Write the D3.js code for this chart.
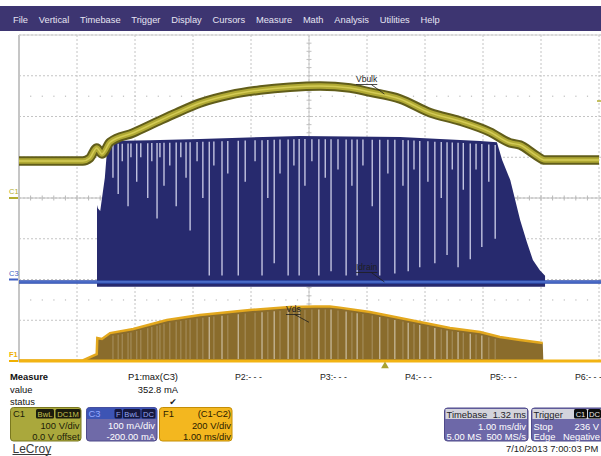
<!DOCTYPE html>
<html>
<head>
<meta charset="utf-8">
<script src="https://cdn.jsdelivr.net/npm/d3@7"></script>
<style>
  body { margin: 0; background: #fff; }
  svg { display: block; font-family: "Liberation Sans", Arial, sans-serif; }
</style>
</head>
<body>
<svg id="scope" width="601" height="456"></svg>
<script>
// ---- data (time in ms) ----
const menuItems = ['File', 'Vertical', 'Timebase', 'Trigger', 'Display', 'Cursors', 'Measure', 'Math', 'Analysis', 'Utilities', 'Help']

// C1 : Vbulk (V)
const c1Time = [0, 1.10, 1.22, 1.34, 1.43, 1.57, 1.97, 2.38, 2.72, 3.12, 3.64, 4.16, 4.67, 5.19, 5.71, 6.05, 6.57, 7.09, 7.60, 8.12, 8.47, 8.64, 8.90, 9.07, 10]
const c1Volts = [91, 91, 98, 123, 108, 137, 160, 187, 209, 233, 253, 265, 272, 275, 270, 260, 243, 209, 189, 162, 135, 130, 106, 93, 93]

// C3 : Idrain envelope top (mA)
const c3Time = [1.345, 1.36, 1.40, 1.48, 1.53, 2.26, 3.12, 4.84, 6.57, 7.95, 8.24, 8.33, 8.47, 8.64, 8.76, 8.86, 8.98, 9.07]
const c3Peak = [183, 175, 168, 250, 340, 342, 345, 352, 350, 340, 337, 293, 244, 146, 90, 48, 23, 9]
const c3Floor = -18
const c3Baseline = -6

// F1 : Vds = C1 - C2 envelope top (V)
const f1Time = [0, 1.10, 1.34, 1.35, 1.43, 1.57, 1.97, 2.55, 3.12, 3.98, 4.67, 5.10, 5.36, 5.53, 6.05, 6.57, 7.43, 7.95, 8.29, 8.64, 9.03, 9.04, 10]
const f1Volts = [3, 3, 34, 113, 108, 137, 157, 201, 226, 250, 265, 268, 268, 262, 240, 211, 162, 142, 118, 103, 88, 3, 3]

// switching gaps: time and the current level where each gap ends (mA)
const gapTime = [1.62, 1.71, 1.78, 1.88, 1.93, 2.03, 2.10, 2.22, 2.29, 2.38, 2.43, 2.50, 2.60, 2.71, 2.79, 2.88, 2.95, 3.07, 3.17, 3.28, 3.36, 3.50, 3.60, 3.78, 3.90, 4.07, 4.19, 4.29, 4.40, 4.50, 4.64, 4.74, 4.83, 4.93, 5.05, 5.17, 5.28, 5.38, 5.50, 5.64, 5.74, 5.83, 5.93, 6.09, 6.22, 6.36, 6.48, 6.62, 6.71, 6.81, 6.91, 7.05, 7.17, 7.28, 7.38, 7.47, 7.57, 7.66, 7.78, 7.88, 7.98, 8.10, 8.21]
const gapLow = [250, 210, 290, 180, 300, 240, 300, 200, 290, 150, 300, 230, 280, 180, 300, 250, 120, 290, 200, 10, 280, 10, 260, 10, 240, 290, 10, 200, 40, 260, 10, 280, 10, 230, 290, 10, 250, 20, 270, 10, 230, 10, 280, 180, 10, 260, 15, 230, 20, 270, 30, 240, 40, 200, 60, 270, 30, 220, 50, 270, 80, 240, 100]

const measureSlots = ['P1:max(C3)', 'P2:- - -', 'P3:- - -', 'P4:- - -', 'P5:- - -', 'P6:- - -']
const measureValue = '352.8 mA'
const triggerTime = 6.31
const triggerLevel = 238

// ---- scales ----
const x = d3.scaleLinear().domain([0, 10]).range([19, 599])
const yC1 = d3.scaleLinear().domain([-400, 400]).range([361, 35])   // 100 V/div, 0 V offset
const yC3 = d3.scaleLinear().domain([-200, 600]).range([361, 35])   // 100 mA/div, -200 mA offset
const yF1 = d3.scaleLinear().domain([0, 1600]).range([361, 35])     // 200 V/div

const svg = d3.select('#scope')

// ---- menu bar ----
svg.append('rect').attr('x', 0).attr('y', 6).attr('width', 601).attr('height', 25).attr('fill', '#3d3571')
let mx = 13
menuItems.forEach(name => {
  const t = svg.append('text').attr('x', mx).attr('y', 22.5)
    .attr('font-size', 9.3).attr('fill', '#e6e4f2').text(name)
  mx += t.node().getComputedTextLength() + 10.8
})

// ---- grid ----
const grid = svg.append('g')
const gridColor = '#c4c4c4'
d3.range(1, 11).forEach(d => {
  grid.append('line').attr('x1', x(d)).attr('x2', x(d)).attr('y1', 35).attr('y2', 361)
    .attr('stroke', gridColor).attr('stroke-dasharray', '2,2').attr('stroke-width', 1)
})
d3.range(-300, 401, 100).forEach(v => {
  grid.append('line').attr('x1', 19).attr('x2', 601).attr('y1', yC1(v)).attr('y2', yC1(v))
    .attr('stroke', gridColor).attr('stroke-dasharray', '2,2').attr('stroke-width', 1)
})
grid.append('line').attr('x1', 19).attr('x2', 19).attr('y1', 35).attr('y2', 362).attr('stroke', '#c6c6c6').attr('stroke-width', 2)
grid.append('line').attr('x1', 19).attr('x2', 601).attr('y1', 35).attr('y2', 35).attr('stroke', '#d0d0d0').attr('stroke-width', 1)
// centre cross with minor ticks
grid.append('line').attr('x1', 19).attr('x2', 601).attr('y1', yC1(0)).attr('y2', yC1(0)).attr('stroke', '#bcbcbc')
grid.append('line').attr('x1', x(5)).attr('x2', x(5)).attr('y1', 35).attr('y2', 361).attr('stroke', '#c8c8c8')
d3.range(0.2, 10, 0.2).forEach(t => {
  grid.append('line').attr('x1', x(t)).attr('x2', x(t)).attr('y1', yC1(0) - 2.5).attr('y2', yC1(0) + 2.5).attr('stroke', '#b8b8b8')
  ;[250, -250].forEach(v => {
    grid.append('rect').attr('x', x(t) - 0.5).attr('y', yC1(v) - 0.5).attr('width', 1.2).attr('height', 1.2).attr('fill', '#bdbdbd')
  })
})
d3.range(-380, 400, 20).forEach(v => {
  grid.append('line').attr('x1', x(5) - 2.5).attr('x2', x(5) + 2.5).attr('y1', yC1(v)).attr('y2', yC1(v)).attr('stroke', '#c0c0c0')
})

// ---- C3 Idrain ----
const c3Pts = c3Time.map((t, i) => ({ t, v: c3Peak[i] }))
const c3Area = d3.area().x(d => x(d.t)).y0(yC3(c3Floor)).y1(d => yC3(d.v)).curve(d3.curveLinear)
svg.append('path').datum(c3Pts).attr('d', c3Area).attr('fill', '#272a6e')
const c3Top = d3.scaleLinear().domain(c3Time).range(c3Peak)
gapTime.forEach((t, i) => {
  svg.append('line').attr('x1', x(t)).attr('x2', x(t))
    .attr('y1', yC3(c3Top(t)) + 3).attr('y2', yC3(gapLow[i]))
    .attr('stroke', '#cfd0ea').attr('stroke-width', 1.3)
})
svg.append('line').attr('x1', 19).attr('x2', 601).attr('y1', yC3(c3Baseline)).attr('y2', yC3(c3Baseline))
  .attr('stroke', '#2e4cae').attr('stroke-width', 3.5)
svg.append('line').attr('x1', 19).attr('x2', 601).attr('y1', yC3(c3Baseline)).attr('y2', yC3(c3Baseline))
  .attr('stroke', '#6287dc').attr('stroke-width', 1)

// ---- F1 Vds ----
const f1Pts = f1Time.map((t, i) => ({ t, v: f1Volts[i] }))
const f1Area = d3.area().x(d => x(d.t)).y0(yF1(0)).y1(d => yF1(d.v))
svg.append('path').datum(f1Pts).attr('d', f1Area).attr('fill', '#8a6c2c')
const f1Top = d3.scaleLinear().domain(f1Time).range(f1Volts)
gapTime.forEach((t, i) => {
  svg.append('line').attr('x1', x(t)).attr('x2', x(t))
    .attr('y1', yF1(f1Top(t)) + 3).attr('y2', yF1(0) - 2)
    .attr('stroke', '#ddd4bf').attr('stroke-width', 1.2)
    .attr('opacity', gapLow[i] < 100 ? 0.8 : 0.3)
})
const f1Line = d3.line().x(d => x(d.t)).y(d => yF1(d.v))
svg.append('path').datum(f1Pts.filter(d => d.v > 10 || d.t < 1.2))
  .attr('d', f1Line).attr('fill', 'none').attr('stroke', '#e3a81e').attr('stroke-width', 2.5)
svg.append('line').attr('x1', 19).attr('x2', 601).attr('y1', yF1(0)).attr('y2', yF1(0))
  .attr('stroke', '#f2b414').attr('stroke-width', 3)

// ---- C1 Vbulk ----
const c1Pts = c1Time.map((t, i) => ({ t, v: c1Volts[i] }))
const c1Line = d3.line().x(d => x(d.t)).y(d => yC1(d.v)).curve(d3.curveMonotoneX)
svg.append('path').datum(c1Pts).attr('d', c1Line).attr('fill', 'none').attr('stroke', '#615d1a').attr('stroke-width', 9.5)
svg.append('path').datum(c1Pts).attr('d', c1Line).attr('fill', 'none').attr('stroke', '#b0a934').attr('stroke-width', 5.5)
svg.append('path').datum(c1Pts).attr('d', c1Line).attr('fill', 'none').attr('stroke', '#d4cb55').attr('stroke-width', 1.5)

// ---- trace labels ----
function traceLabel(text, lx, ly, tx, ty) {
  const t = svg.append('text').attr('x', lx).attr('y', ly).attr('font-size', 8.5).attr('fill', '#1e1e1e').text(text)
  const w = t.node().getComputedTextLength()
  svg.append('line').attr('x1', lx).attr('x2', lx + w).attr('y1', ly + 2.5).attr('y2', ly + 2.5).attr('stroke', '#1e1e1e').attr('stroke-width', 0.8)
  svg.append('line').attr('x1', lx + w - 6).attr('x2', tx).attr('y1', ly + 2.5).attr('y2', ty).attr('stroke', '#1e1e1e').attr('stroke-width', 0.8)
}
traceLabel('Vbulk', 356, 82, x(6.3), yC1(255))
traceLabel('Idrain', 356, 270, x(6.3), yC3(c3Baseline))
traceLabel('Vds', 286, 312, x(5.0), yF1(190))

// ---- channel markers on the left ----
const markers = [['C1', yC1(0), '#b3ad30'], ['C3', yC3(0), '#3f5fc4'], ['F1', yF1(0), '#f0b000']]
markers.forEach(([name, yy, col]) => {
  svg.append('text').attr('x', 9).attr('y', yy - 4).attr('font-size', 7.5).attr('font-weight', name === 'F1' ? 'bold' : 'normal').attr('fill', col).text(name)
  svg.append('line').attr('x1', 9).attr('x2', 18).attr('y1', yy).attr('y2', yy).attr('stroke', col).attr('stroke-width', 2)
})
svg.append('line').attr('x1', 597).attr('x2', 601).attr('y1', yC1(triggerLevel)).attr('y2', yC1(triggerLevel)).attr('stroke', '#b3ad30').attr('stroke-width', 1.5)
svg.append('path').attr('d', d3.symbol().type(d3.symbolTriangle).size(26)())
  .attr('transform', `translate(${x(triggerTime)},366)`).attr('fill', '#a9a232')

// ---- measure table ----
const fs = 9.4
svg.append('text').attr('x', 10).attr('y', 380).attr('font-size', fs).attr('font-weight', 'bold').attr('fill', '#111').text('Measure')
svg.append('text').attr('x', 10).attr('y', 393).attr('font-size', fs).attr('fill', '#111').text('value')
svg.append('text').attr('x', 10).attr('y', 405).attr('font-size', fs).attr('fill', '#111').text('status')
svg.append('text').attr('x', 178).attr('y', 380).attr('font-size', fs).attr('text-anchor', 'end').attr('fill', '#111').text(measureSlots[0])
svg.append('text').attr('x', 178).attr('y', 393).attr('font-size', fs).attr('text-anchor', 'end').attr('fill', '#111').text(measureValue)
svg.append('text').attr('x', 173).attr('y', 405).attr('font-size', 9).attr('text-anchor', 'middle').attr('fill', '#222').attr('font-family', 'DejaVu Sans').text('\u2714')
measureSlots.slice(1).forEach((s, i) => {
  svg.append('text').attr('x', 235 + i * 85).attr('y', 380).attr('font-size', 8.8).attr('fill', '#222').text(s)
})

// ---- info boxes ----
function box(bx, by, bw, bh, fill, stroke) {
  return svg.append('rect').attr('x', bx).attr('y', by).attr('width', bw).attr('height', bh)
    .attr('rx', 3).attr('fill', fill).attr('stroke', stroke).attr('stroke-width', 1)
}
function txt(tx, ty, s, col, anchor) {
  return svg.append('text').attr('x', tx).attr('y', ty).attr('font-size', fs).attr('fill', col)
    .attr('text-anchor', anchor || 'start').text(s)
}
function badge(bx, bw, s, fill, col) {
  svg.append('rect').attr('x', bx).attr('y', 409).attr('width', bw).attr('height', 9.5).attr('rx', 1.5).attr('fill', fill)
  svg.append('text').attr('x', bx + bw / 2).attr('y', 416.8).attr('font-size', 7.6).attr('text-anchor', 'middle').attr('fill', col).text(s)
}
// C1
box(10.5, 407.5, 70.5, 33.5, '#aaa83c', '#7a781f')
txt(13, 417, 'C1', '#1c1c08')
badge(36, 18, 'BwL', '#1b1b0c', '#c9c250')
badge(55.5, 25, 'DC1M', '#1b1b0c', '#c9c250')
txt(79.5, 429, '100 V/div', '#1c1c08', 'end')
txt(79.5, 440, '0.0 V offset', '#1c1c08', 'end')
// C3
box(86.5, 407.5, 70.5, 33.5, '#6f6aa8', '#4f4a8a')
svg.append('path').attr('d', 'M86.5,419 V410.5 Q86.5,407.5 89.5,407.5 H154 Q157,407.5 157,410.5 V419 Z').attr('fill', '#3d54b4')
txt(88.5, 417, 'C3', '#96a9ff')
badge(114.5, 7.5, 'F', '#15173d', '#93a5ee')
badge(123, 17.5, 'BwL', '#15173d', '#93a5ee')
badge(141.5, 14, 'DC', '#15173d', '#93a5ee')
txt(155, 429, '100 mA/div', '#ffffff', 'end')
txt(155, 440, '-200.00 mA', '#ffffff', 'end')
// F1
box(159.5, 407.5, 72.5, 33.5, '#f3b71f', '#c48e05')
txt(163, 417, 'F1', '#2a2000')
txt(231, 417, '(C1-C2)', '#2a2000', 'end')
txt(231, 429, '200 V/div', '#2a2000', 'end')
txt(231, 440, '1.00 ms/div', '#2a2000', 'end')
// Timebase
box(444.5, 408, 83.5, 33, '#6d68a8', '#4f4a8a')
svg.append('rect').attr('x', 445.5).attr('y', 409).attr('width', 81.5).attr('height', 10).attr('fill', '#d3d3dc')
txt(446.5, 417.5, 'Timebase', '#1e1e2a')
txt(526, 417.5, '1.32 ms', '#1e1e2a', 'end')
txt(526, 429.5, '1.00 ms/div', '#ffffff', 'end')
txt(446.5, 440, '5.00 MS', '#ffffff')
txt(526, 440, '500 MS/s', '#ffffff', 'end')
// Trigger
box(531.5, 408, 75, 33, '#6d68a8', '#4f4a8a')
svg.append('rect').attr('x', 532.5).attr('y', 409).attr('width', 70).attr('height', 10).attr('fill', '#d3d3dc')
txt(533.5, 417.5, 'Trigger', '#1e1e2a')
badge(574, 13, 'C1', '#0c0c0c', '#e8e8e8')
badge(588, 13, 'DC', '#0c0c0c', '#e8e8e8')
txt(599, 429.5, '236 V', '#ffffff', 'end')
txt(533.5, 429.5, 'Stop', '#ffffff')
txt(533.5, 440, 'Edge', '#ffffff')
txt(600, 440, 'Negative', '#ffffff', 'end')

// ---- footer ----
const logo = svg.append('text').attr('x', 12.5).attr('y', 452.5).attr('font-size', 12).attr('fill', '#3a3a3a').text('LeCroy')
svg.append('line').attr('x1', 12.5).attr('x2', 12.5 + logo.node().getComputedTextLength()).attr('y1', 454.5).attr('y2', 454.5)
  .attr('stroke', '#3a3a3a').attr('stroke-width', 1)
txt(506, 452, '7/10/2013 7:00:03 PM', '#222')
</script>
</body>
</html>
